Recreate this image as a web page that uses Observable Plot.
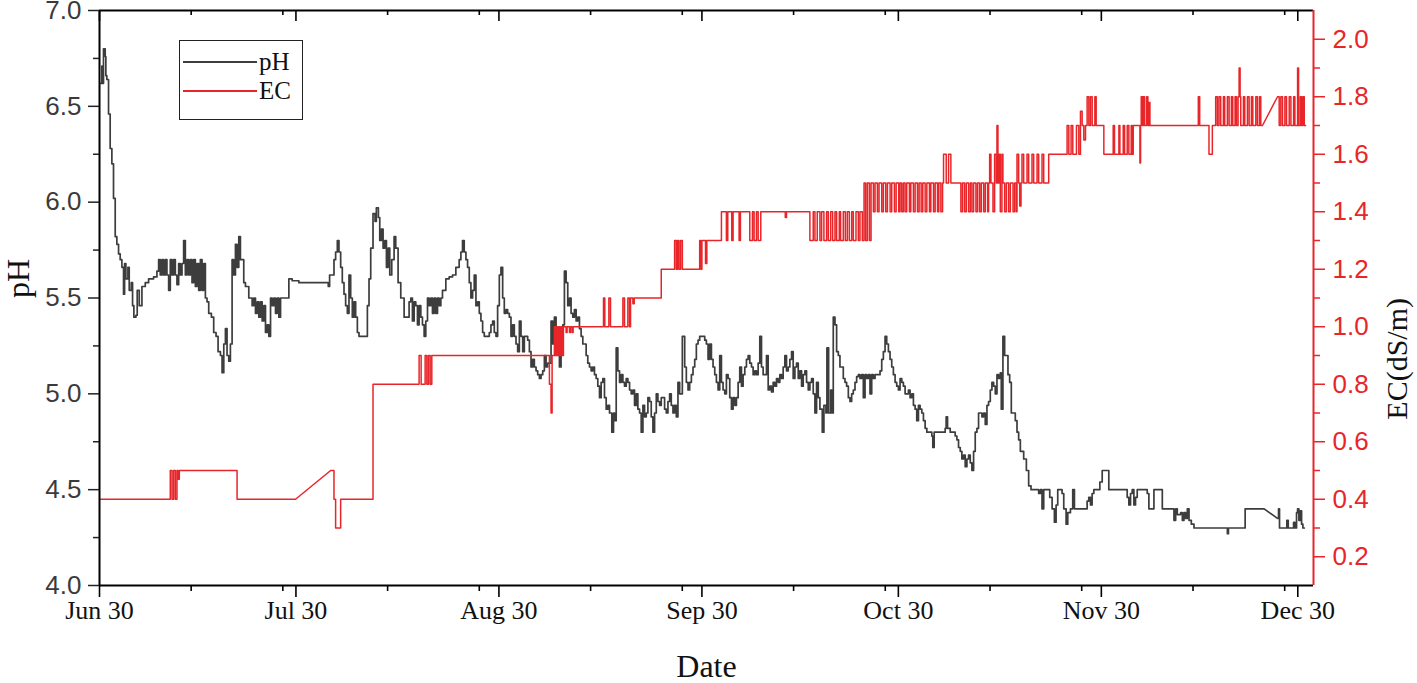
<!DOCTYPE html>
<html>
<head>
<meta charset="utf-8">
<script src="https://cdn.jsdelivr.net/npm/d3@7"></script>
<script src="https://cdn.jsdelivr.net/npm/@observablehq/plot@0.6"></script>
<style>
  html, body { margin: 0; padding: 0; background: #fff; }
  #wrap { position: relative; width: 1417px; height: 683px; overflow: hidden; }
  .legend { position: absolute; left: 179px; top: 40px; width: 124px; height: 80px;
            border: 1px solid #222; box-sizing: border-box; font-family: "Liberation Serif", serif;
            font-size: 25px; color: #111; }
  .legend .sw { position: absolute; left: 3px; width: 74px; height: 2px; }
  .legend .lb { position: absolute; left: 79px; line-height: 1; }
</style>
</head>
<body>
<div id="wrap"></div>
<script>
// ---- data (day offset from Jun 30, value) ----
const startUTC = Date.UTC(2020, 5, 30);

const phReadings = [
  [0.2,6.62],[0.36,6.71],[0.5,6.62],[0.61,6.8],[0.87,6.76],[0.97,6.66],[1.12,6.64],[1.38,6.46],[1.63,6.28],[1.89,6.2],
  [2.14,6.02],[2.4,5.82],[2.65,5.78],[2.91,5.73],[3.16,5.7],[3.42,5.66],[3.67,5.52],[3.83,5.68],[4.03,5.6],[4.34,5.66],
  [4.54,5.54],[4.85,5.58],[5.05,5.46],[5.25,5.4],[5.56,5.41],[5.76,5.54],[6.07,5.46],[6.48,5.56],[6.99,5.58],[7.5,5.6],
  [8.26,5.61],[8.77,5.64],[9.03,5.7],[9.28,5.62],[9.54,5.7],[9.79,5.62],[10.05,5.7],[10.3,5.62],[10.56,5.54],[10.81,5.7],
  [11.07,5.62],[11.32,5.7],[11.58,5.62],[11.83,5.57],[12.09,5.68],[12.34,5.62],[12.6,5.68],[12.85,5.8],[13.11,5.62],[13.36,5.7],
  [13.62,5.62],[13.87,5.7],[14.13,5.58],[14.38,5.7],[14.64,5.56],[14.89,5.68],[15.15,5.54],[15.4,5.7],[15.66,5.54],[15.91,5.68],
  [16.17,5.5],[16.42,5.48],[16.68,5.42],[17.09,5.4],[17.44,5.32],[17.8,5.3],[18.11,5.22],[18.47,5.2],[18.72,5.11],[18.98,5.26],
  [19.23,5.34],[19.48,5.2],[19.74,5.17],[19.99,5.26],[20.25,5.7],[20.5,5.62],[20.76,5.78],[21.01,5.66],[21.27,5.82],[21.52,5.7],
  [21.78,5.7],[22.03,5.58],[22.29,5.56],[22.8,5.5],[23.31,5.46],[23.57,5.5],[23.82,5.42],[24.08,5.48],[24.33,5.4],[24.59,5.48],
  [24.84,5.38],[25.1,5.46],[25.35,5.32],[25.61,5.36],[25.86,5.3],[26.12,5.5],[26.37,5.46],[26.63,5.5],[26.88,5.42],[27.14,5.5],
  [27.39,5.4],[27.65,5.5],[28.41,5.5],[28.92,5.6],[29.43,5.59],[30.45,5.58],[34.79,5.58],[34.94,5.56],[35.14,5.62],[35.81,5.7],
  [36.06,5.74],[36.32,5.8],[36.57,5.74],[36.83,5.66],[37.08,5.58],[37.34,5.52],[37.59,5.46],[37.85,5.42],[38.1,5.62],[38.36,5.5],
  [38.61,5.4],[38.87,5.48],[39.12,5.4],[39.38,5.32],[39.63,5.3],[40.65,5.3],[40.91,5.46],[41.16,5.6],[41.42,5.76],[41.77,5.94],
  [42.08,5.9],[42.28,5.97],[42.59,5.92],[42.8,5.8],[43.05,5.86],[43.31,5.76],[43.56,5.8],[43.82,5.66],[44.07,5.76],[44.33,5.62],
  [44.63,5.7],[44.99,5.82],[45.24,5.76],[45.6,5.58],[46.01,5.5],[46.52,5.4],[47.03,5.4],[47.28,5.48],[47.54,5.5],[47.79,5.38],
  [48.05,5.48],[48.3,5.46],[48.56,5.36],[48.81,5.46],[49.07,5.4],[49.32,5.36],[49.58,5.3],[49.83,5.38],[50.09,5.5],[50.34,5.46],
  [50.6,5.5],[50.85,5.42],[51.11,5.5],[51.36,5.42],[51.62,5.5],[51.87,5.46],[52.13,5.5],[52.38,5.54],[52.89,5.6],[53.4,5.61],
  [53.91,5.62],[54.42,5.66],[54.93,5.7],[55.19,5.74],[55.44,5.8],[55.7,5.74],[55.96,5.7],[56.21,5.66],[56.47,5.58],[56.72,5.5],
  [56.98,5.54],[57.23,5.62],[57.49,5.46],[57.74,5.48],[58.0,5.42],[58.25,5.38],[58.51,5.32],[58.76,5.3],[59.27,5.3],[59.53,5.32],
  [59.78,5.36],[60.04,5.38],[60.29,5.32],[60.55,5.3],[60.8,5.46],[61.06,5.62],[61.31,5.66],[61.57,5.5],[61.82,5.42],[62.08,5.44],
  [62.33,5.42],[62.59,5.4],[62.84,5.3],[63.1,5.36],[63.35,5.3],[63.61,5.26],[63.86,5.22],[64.12,5.38],[64.37,5.3],[64.63,5.22],
  [64.88,5.3],[65.14,5.3],[65.39,5.28],[65.65,5.22],[65.9,5.14],[66.16,5.18],[66.41,5.14],[66.67,5.12],[66.92,5.1],[67.18,5.08],
  [67.43,5.1],[67.69,5.12],[67.94,5.2],[68.2,5.14],[68.45,5.16],[68.71,5.16],[68.96,5.38],[69.22,5.26],[69.47,5.4],[69.73,5.32],
  [69.98,5.3],[70.24,5.14],[70.49,5.22],[70.75,5.36],[71.0,5.64],[71.26,5.58],[71.51,5.46],[71.77,5.5],[72.02,5.42],[72.28,5.4],
  [72.53,5.44],[72.79,5.38],[73.04,5.4],[73.3,5.34],[73.55,5.3],[73.81,5.26],[74.06,5.26],[74.32,5.2],[74.57,5.16],[74.83,5.14],
  [75.08,5.12],[75.34,5.14],[75.59,5.1],[75.85,5.08],[76.1,5.04],[76.36,4.98],[76.61,5.06],[76.87,5.08],[77.12,4.98],[77.38,4.92],
  [77.63,4.94],[77.89,4.9],[78.24,4.8],[78.5,4.9],[78.7,4.86],[78.91,5.24],[79.16,5.12],[79.42,5.06],[79.67,5.1],[79.93,5.06],
  [80.18,5.04],[80.44,5.08],[80.69,5.06],[80.95,5.02],[81.2,5.0],[81.46,5.02],[81.71,4.94],[81.97,5.0],[82.22,4.92],[82.48,4.9],
  [82.73,4.8],[82.99,4.94],[83.24,4.88],[83.5,4.9],[83.75,4.98],[84.01,4.96],[84.26,4.88],[84.52,4.8],[84.77,4.9],[85.03,5.0],
  [85.28,4.96],[85.54,4.94],[85.79,4.98],[86.05,4.98],[86.3,4.92],[86.56,4.9],[86.81,4.96],[87.07,5.0],[87.32,4.94],[87.58,4.9],
  [87.83,4.94],[88.09,4.88],[88.34,5.06],[88.6,5.0],[89.01,5.3],[89.37,5.14],[89.62,5.06],[89.88,5.02],[90.13,5.06],[90.39,5.1],
  [90.64,5.14],[90.9,5.18],[91.15,5.26],[91.41,5.28],[91.66,5.3],[92.17,5.3],[92.43,5.28],[92.68,5.26],[92.94,5.18],[93.19,5.26],
  [93.45,5.18],[93.7,5.14],[93.96,5.1],[94.21,5.06],[94.47,5.02],[94.72,5.2],[94.98,5.06],[95.23,5.02],[95.49,5.0],[95.74,5.1],
  [96.0,5.08],[96.25,4.98],[96.51,4.92],[96.76,4.98],[97.02,4.94],[97.27,4.98],[97.53,5.06],[97.78,5.14],[98.04,5.04],[98.29,5.1],
  [98.55,5.14],[98.8,5.18],[99.06,5.2],[99.31,5.16],[99.57,5.14],[99.82,5.1],[100.08,5.12],[100.33,5.1],[100.59,5.16],[100.84,5.3],
  [101.1,5.14],[101.35,5.1],[101.86,5.2],[102.12,5.02],[102.37,5.04],[102.63,5.01],[102.88,5.06],[103.14,5.04],[103.39,5.08],[103.65,5.06],
  [103.9,5.1],[104.16,5.08],[104.41,5.14],[104.67,5.2],[104.92,5.12],[105.18,5.14],[105.43,5.18],[105.69,5.22],[105.94,5.08],[106.2,5.14],
  [106.45,5.16],[106.71,5.08],[106.96,5.12],[107.22,5.04],[107.47,5.1],[107.73,5.12],[107.98,5.06],[108.24,5.02],[108.49,5.06],[108.75,5.08],
  [109.0,5.0],[109.26,4.9],[109.51,5.06],[109.77,4.98],[110.02,4.92],[110.38,4.8],[110.63,4.94],[110.94,4.9],[111.09,5.24],[111.35,4.9],
  [111.66,5.02],[111.86,4.9],[112.06,5.4],[112.32,5.36],[112.57,5.22],[112.83,5.2],[113.08,5.14],[113.59,5.08],[113.85,5.06],[114.1,5.04],
  [114.36,4.98],[114.61,4.96],[114.87,5.0],[115.12,5.02],[115.38,5.06],[115.63,5.09],[115.89,5.1],[116.14,5.08],[116.4,5.1],[116.65,4.98],
  [116.91,5.1],[117.16,5.08],[117.42,5.1],[117.67,5.0],[117.93,5.1],[118.18,5.08],[118.44,5.1],[119.2,5.12],[119.46,5.18],[119.71,5.22],
  [119.97,5.3],[120.22,5.26],[120.48,5.22],[120.73,5.18],[120.99,5.14],[121.24,5.1],[121.5,5.06],[121.75,5.04],[122.01,5.02],[122.26,5.08],
  [122.52,5.06],[122.77,5.04],[123.03,5.0],[123.54,5.02],[123.79,4.98],[124.05,5.0],[124.3,4.94],[124.56,4.92],[124.81,4.86],[125.07,4.94],
  [125.32,4.92],[125.58,4.9],[125.83,4.86],[126.09,4.82],[126.35,4.8],[127.11,4.78],[127.26,4.72],[127.47,4.8],[129.15,4.82],[129.3,4.88],
  [129.51,4.82],[129.92,4.8],[130.68,4.78],[130.94,4.76],[131.19,4.72],[131.45,4.7],[131.7,4.66],[131.96,4.68],[132.21,4.62],[132.47,4.66],
  [132.72,4.68],[132.98,4.64],[133.23,4.6],[133.49,4.7],[133.74,4.8],[134.0,4.82],[134.25,4.9],[134.76,4.88],[135.02,4.9],[135.27,4.84],
  [135.53,4.94],[135.78,4.96],[136.04,5.02],[136.29,5.06],[136.55,5.04],[136.8,5.0],[137.06,5.1],[137.31,5.08],[137.57,5.11],[137.72,4.92],
  [137.97,5.3],[138.23,5.2],[138.74,5.1],[139.0,5.06],[139.25,4.9],[139.86,4.86],[140.12,4.8],[140.37,4.76],[140.63,4.7],[141.14,4.66],
  [141.55,4.6],[141.9,4.52],[142.26,4.5],[143.43,4.48],[143.69,4.5],[143.94,4.4],[144.2,4.5],[145.12,4.46],[145.48,4.4],[145.83,4.33],
  [146.09,4.42],[146.34,4.5],[147.0,4.48],[147.26,4.4],[147.62,4.32],[147.87,4.38],[148.28,4.4],[148.63,4.5],[148.89,4.4],[150.83,4.44],
  [151.08,4.46],[151.34,4.42],[151.59,4.48],[151.85,4.5],[152.77,4.54],[153.13,4.6],[154.14,4.5],[156.95,4.46],[157.2,4.42],[157.46,4.48],
  [157.71,4.5],[157.97,4.42],[158.22,4.46],[158.48,4.5],[160.01,4.48],[160.26,4.4],[161.03,4.5],[162.31,4.4],[164.09,4.34],[164.35,4.4],
  [164.6,4.37],[165.11,4.38],[165.37,4.34],[165.62,4.38],[165.88,4.35],[166.13,4.4],[166.39,4.34],[166.74,4.32],[167.15,4.3],[172.25,4.27],
  [172.41,4.3],[174.96,4.4],[177.86,4.4],[179.9,4.35,"ramp"],[180.06,4.4],[180.21,4.3],[181.33,4.34],[181.54,4.3],[182.36,4.33],[182.56,4.3],
  [182.81,4.38],[182.97,4.4],[183.17,4.34],[183.38,4.39],[183.58,4.32],[183.78,4.3],[184.0,4.3]
];

const ecReadings = [
  [0,0.4],[10.81,0.5],[11.07,0.4],[11.32,0.5],[11.58,0.4],[11.83,0.5],[11.99,0.47],[12.19,0.5],[21.01,0.4],[29.94,0.4],
  [35.3,0.5,"ramp"],[35.81,0.4],[36.06,0.3],[36.83,0.4],[41.77,0.8],[48.81,0.9],[49.12,0.8],[49.73,0.9],[49.99,0.8],[50.24,0.9],
  [50.5,0.8],[50.75,0.9],[68.71,0.8],[68.96,0.7],[69.12,0.9],[69.47,1.0],[69.63,0.9],[69.83,1.0],[69.98,0.9],[70.14,1.0],
  [70.34,0.9],[70.49,1.0],[70.65,0.9],[70.85,1.0],[71.26,0.98],[71.41,1.0],[71.77,0.98],[71.92,1.0],[72.17,0.98],[72.33,1.0],
  [76.97,1.1],[77.17,1.0],[77.79,1.1],[78.04,1.0],[79.93,1.1],[80.18,1.0],[80.69,1.1],[80.95,1.0],[81.1,1.1],[81.46,1.08],
  [81.66,1.1],[85.79,1.2],[87.83,1.3],[88.09,1.2],[88.29,1.3],[88.5,1.2],[88.75,1.3],[89.01,1.2],[91.66,1.3],[91.85,1.2],
  [92.0,1.3],[92.55,1.22],[92.75,1.3],[94.98,1.4],[95.74,1.3],[95.95,1.4],[96.56,1.3],[96.76,1.4],[97.68,1.3],[97.88,1.4],
  [99.31,1.3],[99.72,1.4],[99.97,1.3],[100.33,1.4],[100.59,1.3],[100.99,1.4],[104.73,1.38],[104.92,1.4],[108.49,1.3],[109.0,1.4],
  [109.26,1.3],[109.61,1.4],[110.02,1.3],[110.28,1.4],[110.63,1.3],[111.04,1.4],[111.3,1.3],[111.66,1.4],[111.96,1.3],[112.32,1.4],
  [112.57,1.3],[112.98,1.4],[113.18,1.3],[113.59,1.4],[113.9,1.3],[114.2,1.4],[114.51,1.3],[114.87,1.4],[115.12,1.3],[115.53,1.4],
  [115.89,1.3],[116.14,1.4],[116.5,1.3],[116.76,1.5],[117.01,1.3],[117.27,1.5],[117.58,1.3],[117.83,1.5],[118.19,1.4],[118.44,1.5],
  [118.8,1.4],[119.05,1.5],[119.46,1.4],[119.71,1.5],[120.07,1.4],[120.33,1.5],[120.74,1.4],[120.99,1.5],[121.4,1.4],[121.66,1.5],
  [122.06,1.4],[122.26,1.5],[122.52,1.4],[122.77,1.5],[123.03,1.4],[123.28,1.5],[123.69,1.4],[123.9,1.5],[124.3,1.4],[124.56,1.5],
  [124.92,1.4],[125.17,1.5],[125.48,1.4],[125.73,1.5],[126.09,1.4],[126.35,1.5],[126.75,1.4],[126.96,1.5],[127.37,1.4],[127.62,1.5],
  [127.98,1.4],[128.18,1.5],[128.49,1.4],[128.75,1.5],[128.9,1.6],[129.31,1.5],[129.67,1.6],[130.02,1.5],[131.55,1.4],[131.8,1.5],
  [132.11,1.4],[132.37,1.5],[132.72,1.4],[132.98,1.5],[133.23,1.4],[133.49,1.5],[133.85,1.4],[134.1,1.5],[134.41,1.4],[134.66,1.5],
  [135.02,1.4],[135.27,1.5],[135.63,1.4],[135.78,1.5],[135.94,1.6],[136.14,1.5],[136.45,1.4],[136.7,1.6],[136.96,1.5],[137.06,1.7],
  [137.21,1.5],[137.42,1.6],[137.57,1.4],[137.82,1.6],[137.97,1.5],[138.23,1.4],[138.49,1.5],[138.84,1.4],[139.1,1.5],[139.51,1.4],
  [139.76,1.5],[140.02,1.4],[140.12,1.6],[140.37,1.5],[140.53,1.42],[140.73,1.5],[140.88,1.6],[141.14,1.5],[141.65,1.6],[141.9,1.5],
  [142.41,1.6],[142.67,1.5],[143.18,1.6],[143.43,1.5],[143.94,1.6],[144.2,1.5],[144.96,1.6],[147.77,1.7],[148.03,1.6],[148.38,1.7],
  [148.64,1.6],[149.2,1.7],[149.56,1.6],[149.81,1.75],[150.07,1.7],[150.32,1.65],[150.58,1.7],[150.83,1.8],[151.09,1.7],[151.34,1.8],
  [151.6,1.7],[152.01,1.8],[152.21,1.7],[153.38,1.6],[154.81,1.7],[155.01,1.6],[155.68,1.7],[155.83,1.6],[156.34,1.7],[156.55,1.6],
  [156.95,1.7],[157.2,1.6],[157.56,1.7],[157.71,1.6],[157.87,1.7],[158.89,1.57],[158.99,1.7],[159.09,1.8],[159.29,1.7],[159.4,1.8],
  [159.6,1.7],[159.91,1.8],[160.11,1.7],[160.26,1.78],[160.42,1.7],[167.81,1.8],[168.02,1.7],[169.44,1.6],[169.95,1.7],[170.46,1.8],
  [170.72,1.7],[170.97,1.8],[171.23,1.7],[171.64,1.8],[171.84,1.7],[172.25,1.8],[172.51,1.7],[172.86,1.8],[173.07,1.7],[173.42,1.8],
  [173.63,1.7],[173.88,1.8],[174.04,1.9],[174.19,1.8],[174.29,1.7],[174.7,1.8],[174.9,1.7],[175.31,1.8],[175.57,1.7],[175.92,1.8],
  [176.13,1.7],[176.59,1.8],[176.84,1.7],[177.15,1.8],[177.35,1.7],[177.61,1.7],[179.9,1.8,"ramp"],[180.16,1.7],[180.41,1.8],[180.67,1.7],
  [181.03,1.8],[181.28,1.7],[181.69,1.8],[181.95,1.7],[182.36,1.8],[182.56,1.7],[182.97,1.9],[183.12,1.7],[183.38,1.8],[183.58,1.7],
  [183.78,1.8],[183.99,1.7],[184.2,1.7]
];

const majorTickDates = ["2020-06-30","2020-07-30","2020-08-30","2020-09-30","2020-10-30","2020-11-30","2020-12-30"];
const minorTickDates = ["2020-07-14","2020-07-28","2020-08-13","2020-08-27","2020-09-13","2020-09-27",
                        "2020-10-14","2020-10-28","2020-11-13","2020-11-27","2020-12-14","2020-12-28"];
const phMajorTicks = [4.0, 4.5, 5.0, 5.5, 6.0, 6.5, 7.0];
const phMinorTicks = [4.25, 4.75, 5.25, 5.75, 6.25, 6.75];
const ecMajorTicks = [0.2, 0.4, 0.6, 0.8, 1.0, 1.2, 1.4, 1.6, 1.8, 2.0];
const ecMinorTicks = [0.3, 0.5, 0.7, 0.9, 1.1, 1.3, 1.5, 1.7, 1.9];
const phDomain = [4, 7];
const ecDomain = [0.1, 2.1];
const dayDomain = [0, 185.4];

// ---- helpers ----
const day = d => new Date(startUTC + d * 864e5);
const isoDate = s => new Date(s + "T00:00:00Z");
const ecToY = d3.scaleLinear().domain(ecDomain).range(phDomain);
// readings hold a value from their day on (step); "ramp" marks a straight run from the previous reading
function toVertices(readings) {
  const out = [];
  readings.forEach((r, i) => {
    if (i > 0 && r[2] !== "ramp") out.push([r[0], readings[i - 1][1]]);
    out.push([r[0], r[1]]);
  });
  return out;
}
const phPts = toVertices(phReadings).map(([d, v]) => ({t: day(d), v}));
const ecPts = toVertices(ecReadings).map(([d, v]) => ({t: day(d), v: ecToY(v)}));

const RED = "#e8262a";
const serif = "Liberation Serif";
const sans = "Liberation Sans";
const xMin = day(dayDomain[0]), xMax = day(dayDomain[1]);
const majors = majorTickDates.map(isoDate);
const minors = minorTickDates.map(isoDate);
const pxPerPH = 575 / (phDomain[1] - phDomain[0]);

const chart = Plot.plot({
  width: 1417,
  height: 683,
  marginLeft: 99,
  marginRight: 104,
  marginTop: 10,
  marginBottom: 98,
  style: {background: "#fff", fontFamily: sans, overflow: "visible"},
  x: {type: "utc", domain: [xMin, xMax], axis: null, label: null},
  y: {domain: phDomain, axis: null, label: null},
  marks: [
    Plot.line(phPts, {x: "t", y: "v", stroke: "#3d3d3d", strokeWidth: 1.7}),
    Plot.line(ecPts, {x: "t", y: "v", stroke: RED, strokeWidth: 1.5}),
    // frame
    Plot.ruleY([phDomain[0]], {stroke: "#000", strokeWidth: 2}),
    Plot.ruleY([phDomain[1]], {stroke: "#000", strokeWidth: 1.8}),
    Plot.ruleX([xMin], {stroke: "#000", strokeWidth: 2}),
    Plot.ruleX([xMax], {stroke: RED, strokeWidth: 2}),
    // top inward ticks
    Plot.ruleX(majors, {y1: phDomain[1], y2: phDomain[1] - 11 / pxPerPH, stroke: "#000", strokeWidth: 1.6}),
    Plot.ruleX(minors, {y1: phDomain[1], y2: phDomain[1] - 5 / pxPerPH, stroke: "#000", strokeWidth: 1.6}),
    // bottom axis
    Plot.axisX(majors, {anchor: "bottom", tickSize: 12, tickPadding: 3, strokeWidth: 1.6,
      tickFormat: d3.utcFormat("%b %d"), fontSize: 26, fontFamily: serif, fill: "#111", stroke: "#000", label: null}),
    Plot.axisX(minors, {anchor: "bottom", tickSize: 6, strokeWidth: 1.6, stroke: "#000", tickFormat: () => "", label: null}),
    // left axis
    Plot.axisY(phMajorTicks, {anchor: "left", tickSize: 11, tickPadding: 7, strokeWidth: 1.5,
      tickFormat: d3.format(".1f"), fontSize: 26, fontFamily: sans, fill: "#3a3a3a", stroke: "#222", label: null}),
    Plot.axisY(phMinorTicks, {anchor: "left", tickSize: 6, strokeWidth: 1.5, stroke: "#222", tickFormat: () => "", label: null}),
    // right axis (EC)
    Plot.axisY(ecMajorTicks.map(ecToY), {anchor: "right", tickSize: 11, tickPadding: 8, strokeWidth: 1.5,
      tickFormat: v => ecToY.invert(v).toFixed(1), fontSize: 26, fontFamily: sans, fill: RED, stroke: RED, label: null}),
    Plot.axisY(ecMinorTicks.map(ecToY), {anchor: "right", tickSize: 6, strokeWidth: 1.5, stroke: RED,
      tickFormat: () => "", label: null}),
    // axis titles
    Plot.text(["pH"], {text: d => d, frameAnchor: "left", dx: -81, rotate: -90, fontSize: 32, fontFamily: serif, fill: "#111"}),
    Plot.text(["EC(dS/m)"], {text: d => d, frameAnchor: "right", dx: 84, rotate: -90, fontSize: 30, fontFamily: serif, fill: "#111"}),
    Plot.text(["Date"], {text: d => d, frameAnchor: "bottom", dy: 91, fontSize: 32, fontFamily: serif, fill: "#111"})
  ]
});

const wrap = document.getElementById("wrap");
wrap.appendChild(chart);

// legend
const legendItems = [{label: "pH", color: "#3d3d3d"}, {label: "EC", color: RED}];
const lg = document.createElement("div");
lg.className = "legend";
legendItems.forEach((it, i) => {
  const y = 21 + i * 29;
  const sw = document.createElement("div");
  sw.className = "sw";
  sw.style.top = (y - 1) + "px";
  sw.style.background = it.color;
  const lb = document.createElement("div");
  lb.className = "lb";
  lb.style.top = (y - 13) + "px";
  lb.textContent = it.label;
  lg.appendChild(sw);
  lg.appendChild(lb);
});
wrap.appendChild(lg);
</script>
</body>
</html>
